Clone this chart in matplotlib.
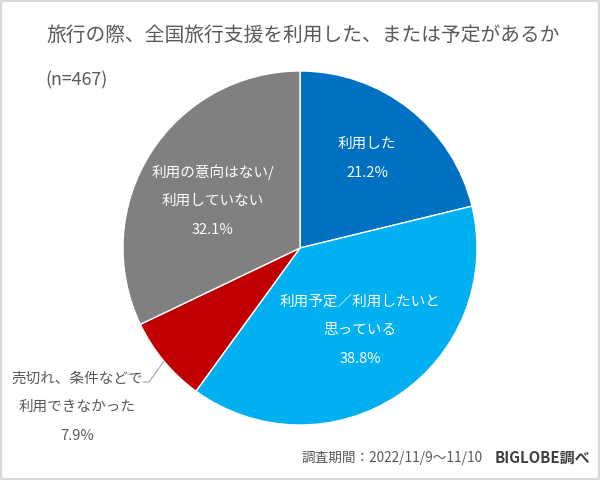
import matplotlib.pyplot as plt
import matplotlib.patches as patches
import numpy as np

plt.rcParams['font.family'] = ['Noto Sans CJK JP', 'DejaVu Sans']

title = '旅行の際、全国旅行支援を利用した、または予定があるか'
n_label = '(n=467)'
labels = [['利用した'],
          ['利用予定／利用したいと', '思っている'],
          ['売切れ、条件などで', '利用できなかった'],
          ['利用の意向はない/', '利用していない']]
values = [21.2, 38.8, 7.9, 32.1]
colors = ['#0070C0', '#00B0F0', '#C00000', '#808080']

fig = plt.figure(figsize=(6, 4.8), dpi=100)
fig.patch.set_facecolor('white')
ax = fig.add_axes([0.205, 0.1146, 0.59, 0.7375])

wedges, _ = ax.pie(values, colors=colors, startangle=90, counterclock=False,
                   wedgeprops=dict(edgecolor='white', linewidth=1.0))
ax.set_xlim(-1, 1)
ax.set_ylim(-1, 1)
ax.set_aspect('equal')

# label centres in data units (radius 1 = pie edge)
label_pos = [(0.379, 0.506), (0.339, -0.463), (-1.26, -0.90), (-0.492, 0.266)]
step = 0.162
for i, (w, v) in enumerate(zip(wedges, values)):
    lines = labels[i] + ['%.1f%%' % v]
    x0, y0 = label_pos[i]
    col = '#595959' if i == 2 else 'white'
    top = y0 + step * (len(lines) - 1) / 2
    for k, line in enumerate(lines):
        ax.text(x0, top - k * step, line, ha='center', va='center',
                fontsize=10.5, color=col)

# leader line for the small slice
w = wedges[2]
mid = np.radians((w.theta1 + w.theta2) / 2)
px, py = np.cos(mid), np.sin(mid)
ax.plot([px, -0.853, -0.887], [py, -0.757, -0.757], color='#A6A6A6', lw=0.8,
        clip_on=False)

fig.text(0.077, 0.927, title, fontsize=14.2, color='#595959', va='center')
fig.text(0.076, 0.833, n_label, fontsize=12.8, color='#595959', va='center')
fig.text(0.503, 0.046, '調査期間：2022/11/9～11/10', fontsize=9.8,
         color='#595959', va='center')
fig.text(0.983, 0.046, 'BIGLOBE調べ', fontsize=10.8, color='#404040',
         fontweight='bold', va='center', ha='right')

fig.patches.append(patches.Rectangle((0.002, 0.002), 0.996, 0.996,
                                     transform=fig.transFigure, fill=False,
                                     edgecolor='#D9D9D9', linewidth=1.5))

fig.savefig('out.png', dpi=100)
